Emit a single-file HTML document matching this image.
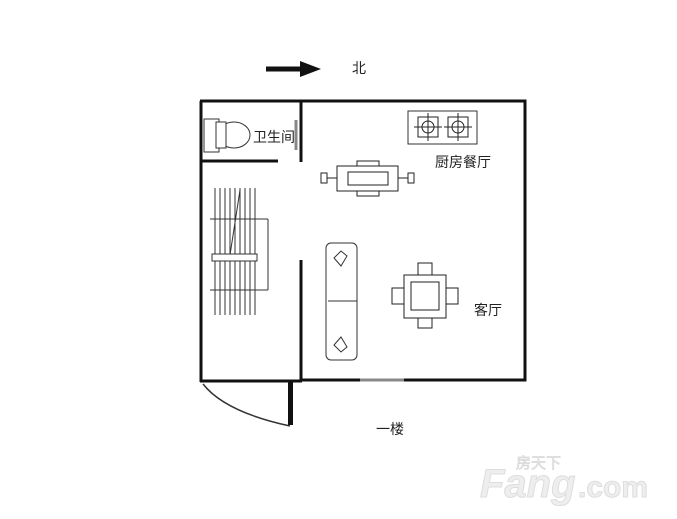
<!DOCTYPE html>
<html><head><meta charset="utf-8"><style>
body{margin:0;background:#fff}
svg{display:block}
text{font-family:"Liberation Sans","Noto Sans CJK SC",sans-serif;fill:#222}
</style></head><body>
<svg width="677" height="519" viewBox="0 0 677 519" xmlns="http://www.w3.org/2000/svg">
<rect width="677" height="519" fill="#fff"/>
<!-- arrow -->
<line x1="266" y1="69" x2="305" y2="69" stroke="#111" stroke-width="5"/>
<polygon points="300,61 321,69 300,77" fill="#111"/>
<text x="352" y="73" font-size="14">北</text>
<!-- outer walls -->
<g stroke="#111" stroke-width="3" fill="none">
<polyline points="200,101 525,101 525,380 301,380"/>
<line x1="201" y1="101" x2="201" y2="382"/>
<line x1="200" y1="381" x2="302" y2="381"/>
<line x1="301" y1="101" x2="301" y2="162"/>
<line x1="301" y1="260" x2="301" y2="380"/>
<line x1="201" y1="161" x2="278" y2="161"/>
</g>
<line x1="296" y1="120" x2="296" y2="150" stroke="#888" stroke-width="3"/>
<line x1="360" y1="380" x2="404" y2="380" stroke="#888" stroke-width="3"/>
<rect x="288" y="380" width="5" height="45" fill="#111"/>
<path d="M203,384 Q225,412 290,426" fill="none" stroke="#333" stroke-width="1.5"/>
<!-- toilet -->
<rect x="204" y="119" width="15" height="33" fill="none" stroke="#333"/>
<ellipse cx="234" cy="135" rx="16" ry="13" fill="none" stroke="#333"/>
<rect x="216" y="122" width="10" height="26" fill="#fff" stroke="#333"/>
<text x="253" y="142" font-size="14">卫生间</text>
<!-- stove -->
<rect x="408" y="111" width="69" height="33" fill="none" stroke="#333"/>
<g fill="none" stroke="#222">
<rect x="418" y="117" width="20" height="20"/><circle cx="428" cy="127" r="6"/><line x1="414" y1="127" x2="442" y2="127"/><line x1="428" y1="113" x2="428" y2="141"/>
<rect x="448" y="117" width="20" height="20"/><circle cx="458" cy="127" r="6"/><line x1="444" y1="127" x2="472" y2="127"/><line x1="458" y1="113" x2="458" y2="141"/>
</g>
<text x="435" y="167" font-size="14">厨房餐厅</text>
<!-- dining table -->
<g fill="none" stroke="#222">
<rect x="337" y="166" width="61" height="25"/>
<rect x="348" y="172" width="40" height="13"/>
<rect x="357" y="161" width="22" height="5"/><rect x="357" y="191" width="22" height="5"/>
<rect x="321" y="173" width="6" height="10"/><line x1="327" y1="178" x2="337" y2="178"/>
<rect x="408" y="173" width="6" height="10"/><line x1="398" y1="178" x2="408" y2="178"/>
</g>
<!-- stairs -->
<g stroke="#333" stroke-width="1">
<line x1="215" y1="188" x2="215" y2="315"/><line x1="220" y1="188" x2="220" y2="315"/><line x1="225" y1="188" x2="225" y2="315"/><line x1="230" y1="188" x2="230" y2="315"/><line x1="235" y1="188" x2="235" y2="315"/><line x1="240" y1="188" x2="240" y2="315"/><line x1="245" y1="188" x2="245" y2="315"/><line x1="250" y1="188" x2="250" y2="315"/><line x1="255" y1="188" x2="255" y2="315"/>
<line x1="210" y1="219" x2="268" y2="219"/><line x1="268" y1="219" x2="268" y2="290"/><line x1="210" y1="290" x2="268" y2="290"/>
<line x1="230" y1="255" x2="240" y2="190"/>
</g>
<rect x="212" y="254" width="45" height="7" fill="#fff" stroke="#333"/>
<!-- sofa -->
<g fill="none" stroke="#333">
<rect x="326" y="243" width="31" height="117" rx="5"/>
<line x1="328" y1="301" x2="357" y2="301"/>
<path d="M334,258 L341,251 L347,256 L341,266 Z"/>
<path d="M334,345 L341,352 L347,347 L341,337 Z"/>
</g>
<!-- square table -->
<g fill="none" stroke="#222">
<rect x="404" y="275" width="42" height="43"/>
<rect x="411" y="282" width="28" height="28"/>
<rect x="418" y="263" width="14" height="12"/><rect x="418" y="318" width="14" height="10"/>
<rect x="392" y="288" width="12" height="16"/><rect x="446" y="288" width="12" height="16"/>
</g>
<text x="474" y="315" font-size="14">客厅</text>
<text x="376" y="434" font-size="14">一楼</text>
<!-- logo -->
<text x="480" y="497" font-size="40" font-weight="bold" font-style="italic" fill="#eee" style="fill:#eee;stroke:#ddd;stroke-width:1">Fang</text>
<text x="578" y="497" font-size="30" font-weight="bold" style="fill:#eee;stroke:#ddd;stroke-width:1">.com</text>
<text x="516" y="468" font-size="15" style="fill:#eee;stroke:#ccc;stroke-width:.5">房天下</text>
</svg>
</body></html>
